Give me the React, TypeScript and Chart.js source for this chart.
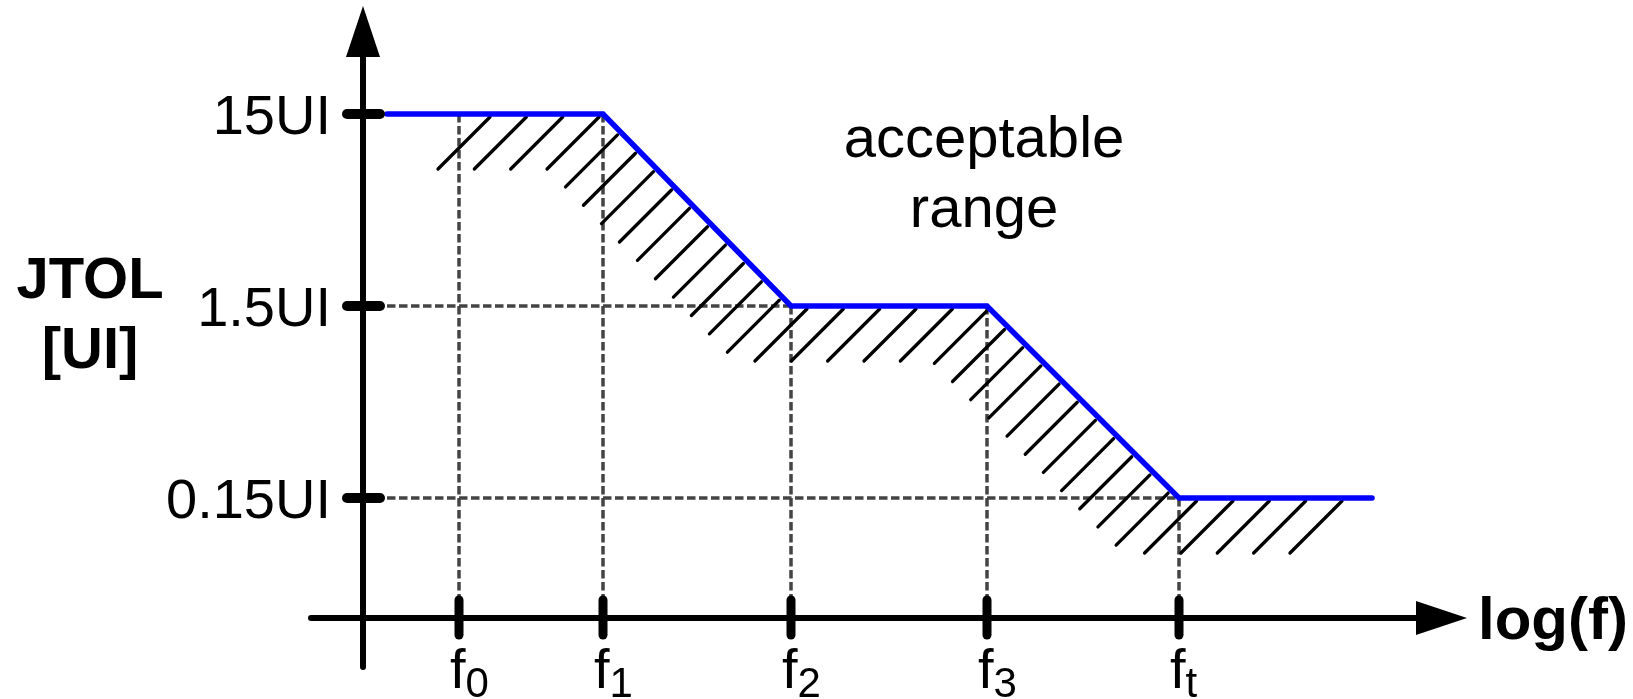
import React, { useEffect, useRef } from 'react';
import { Chart, registerables } from 'chart.js';

Chart.register(...registerables);

// ---- data ----
const freqNames = ['0', '1', '2', '3', 't'];
const freqPos = [0.96, 2.4, 4.28, 6.24, 8.16]; // log(f) positions of f0..ft
const jtolTicks = [15, 1.5, 0.15];
const jtolTickLabels = ['15UI', '1.5UI', '0.15UI'];
const maskLogF = [0.24, 2.4, 4.28, 6.24, 8.16, 10.09];
const maskJtol = [15, 15, 1.5, 1.5, 0.15, 0.15];
const hatchFirst = 1.3; // log(f) where first hatch stroke meets the upper plateau
const hatchLast = 9.82; // log(f) where last hatch stroke meets the lower plateau
const hatchCount = 35;
const regionLabel = ['acceptable', 'range'];
const yTitle = ['JTOL', '[UI]'];
const xTitle = 'log(f)';

const FONT = '"Liberation Sans", Arial, Helvetica, sans-serif';

const diagramPlugin = {
  id: 'diagram',
  beforeDatasetsDraw(chart: any) {
    const { ctx, chartArea } = chart;
    const x = chart.scales.x;
    const y = chart.scales.y;
    const pts = maskLogF.map((v, i) => ({ px: x.getPixelForValue(v), py: y.getPixelForValue(maskJtol[i]) }));
    const curveYAt = (px: number) => {
      for (let i = 0; i < pts.length - 1; i++) {
        const a = pts[i], b = pts[i + 1];
        if (px >= a.px && px <= b.px) {
          const t = (px - a.px) / (b.px - a.px || 1);
          return a.py + t * (b.py - a.py);
        }
      }
      return pts[0].py;
    };
    const axisY = chartArea.bottom;
    const axisX = chartArea.left;

    // dashed guides
    ctx.save();
    ctx.strokeStyle = '#444444';
    ctx.lineWidth = 3.5;
    ctx.setLineDash([8.5, 3.5]);
    ctx.lineCap = 'butt';
    freqPos.forEach((v) => {
      const px = x.getPixelForValue(v);
      const top = curveYAt(px);
      ctx.beginPath();
      ctx.moveTo(px, top);
      ctx.lineTo(px, axisY - 20);
      ctx.stroke();
    });
    jtolTicks.forEach((val) => {
      const idx = maskJtol.findIndex((m) => m === val);
      if (idx < 0) return;
      const py = y.getPixelForValue(val);
      const endX = pts[idx].px;
      const startX = axisX + 24;
      if (endX - startX < 10) return;
      ctx.beginPath();
      ctx.moveTo(startX, py);
      ctx.lineTo(endX, py);
      ctx.stroke();
    });
    ctx.restore();

    // hatching below the mask
    const c0 = x.getPixelForValue(hatchFirst) + y.getPixelForValue(maskJtol[0]);
    const c1 = x.getPixelForValue(hatchLast) + y.getPixelForValue(maskJtol[maskJtol.length - 1]);
    ctx.save();
    ctx.strokeStyle = '#000000';
    ctx.lineWidth = 3.3;
    ctx.lineCap = 'round';
    for (let k = 0; k < hatchCount; k++) {
      const c = c0 + (k * (c1 - c0)) / (hatchCount - 1);
      let hx = NaN, hy = NaN;
      for (let i = 0; i < pts.length - 1; i++) {
        const a = pts[i], b = pts[i + 1];
        const s0 = a.px + a.py, s1 = b.px + b.py;
        if (c >= s0 && c <= s1) {
          const t = (c - s0) / (s1 - s0 || 1);
          hx = a.px + t * (b.px - a.px);
          hy = a.py + t * (b.py - a.py);
          break;
        }
      }
      if (isNaN(hx)) continue;
      ctx.beginPath();
      ctx.moveTo(hx - 3, hy + 3);
      ctx.lineTo(hx - 55, hy + 55);
      ctx.stroke();
    }
    ctx.restore();
  },
  afterDatasetsDraw(chart: any) {
    const { ctx, chartArea } = chart;
    const x = chart.scales.x;
    const y = chart.scales.y;
    const axisY = chartArea.bottom;
    const axisX = chartArea.left;
    const top = chartArea.top;
    const right = chartArea.right;
    const arrowLen = 51;
    const arrowHalf = 17;

    ctx.save();
    ctx.strokeStyle = '#000';
    ctx.fillStyle = '#000';
    ctx.lineWidth = 6;
    ctx.lineCap = 'round';
    // y axis
    ctx.beginPath();
    ctx.moveTo(axisX, axisY + 49);
    ctx.lineTo(axisX, top + arrowLen);
    ctx.stroke();
    ctx.beginPath();
    ctx.moveTo(axisX, top);
    ctx.lineTo(axisX - arrowHalf, top + arrowLen);
    ctx.lineTo(axisX + arrowHalf, top + arrowLen);
    ctx.closePath();
    ctx.fill();
    // x axis
    ctx.beginPath();
    ctx.moveTo(axisX - 52, axisY);
    ctx.lineTo(right - arrowLen, axisY);
    ctx.stroke();
    ctx.beginPath();
    ctx.moveTo(right, axisY);
    ctx.lineTo(right - arrowLen, axisY - arrowHalf);
    ctx.lineTo(right - arrowLen, axisY + arrowHalf);
    ctx.closePath();
    ctx.fill();

    // y ticks + labels
    ctx.lineWidth = 10;
    ctx.font = `56px ${FONT}`;
    ctx.textAlign = 'right';
    ctx.textBaseline = 'alphabetic';
    jtolTicks.forEach((v, i) => {
      const py = y.getPixelForValue(v);
      ctx.beginPath();
      ctx.moveTo(axisX - 16, py);
      ctx.lineTo(axisX + 17, py);
      ctx.stroke();
      ctx.fillText(jtolTickLabels[i], axisX - 32, py + 20);
    });

    // x ticks + labels
    ctx.lineWidth = 9;
    freqPos.forEach((v, i) => {
      const px = x.getPixelForValue(v);
      ctx.beginPath();
      ctx.moveTo(px, axisY - 18);
      ctx.lineTo(px, axisY + 17);
      ctx.stroke();
      ctx.textAlign = 'left';
      ctx.font = `56px ${FONT}`;
      const fx = px - 9;
      ctx.fillText('f', fx, axisY + 70);
      const fw = ctx.measureText('f').width;
      ctx.font = `42px ${FONT}`;
      ctx.fillText(freqNames[i], fx + fw, axisY + 79);
    });

    // titles
    ctx.font = `bold 58px ${FONT}`;
    ctx.textAlign = 'center';
    ctx.fillText(yTitle[0], 90, 298);
    ctx.fillText(yTitle[1], 90, 368);
    ctx.textAlign = 'left';
    ctx.font = `bold 60px ${FONT}`;
    ctx.fillText(xTitle, right + 11, axisY + 21);

    // region label
    ctx.font = `58px ${FONT}`;
    ctx.textAlign = 'center';
    ctx.fillText(regionLabel[0], 984, 157);
    ctx.fillText(regionLabel[1], 984, 227);
    ctx.restore();
  },
};

export default function App() {
  const canvasRef = useRef<HTMLCanvasElement | null>(null);

  useEffect(() => {
    const canvas = canvasRef.current;
    if (!canvas) return;
    const chart = new Chart(canvas, {
      type: 'scatter',
      data: {
        datasets: [
          {
            data: maskLogF.map((v, i) => ({ x: v, y: maskJtol[i] })),
            showLine: true,
            borderColor: '#0000ff',
            backgroundColor: '#0000ff',
            borderWidth: 5.5,
            pointRadius: 0,
            borderCapStyle: 'round',
            borderJoinStyle: 'miter',
            clip: false,
          } as any,
        ],
      },
      options: {
        animation: false,
        responsive: false,
        devicePixelRatio: 1,
        events: [],
        layout: { padding: { left: 363, right: 166, top: 6, bottom: 81 } },
        plugins: { legend: { display: false }, tooltip: { enabled: false }, title: { display: false } },
        scales: {
          x: { type: 'linear', display: false, min: 0, max: 11.04, bounds: 'data' },
          y: { type: 'logarithmic', display: false, min: 0.03557, max: 54.78, bounds: 'data' },
        },
      },
      plugins: [diagramPlugin],
    });
    return () => chart.destroy();
  }, []);

  return (
    <div style={{ position: 'absolute', left: 0, top: 0, width: 1633, height: 699, background: '#fff' }}>
      <canvas ref={canvasRef} width={1633} height={699} style={{ display: 'block' }} />
    </div>
  );
}
